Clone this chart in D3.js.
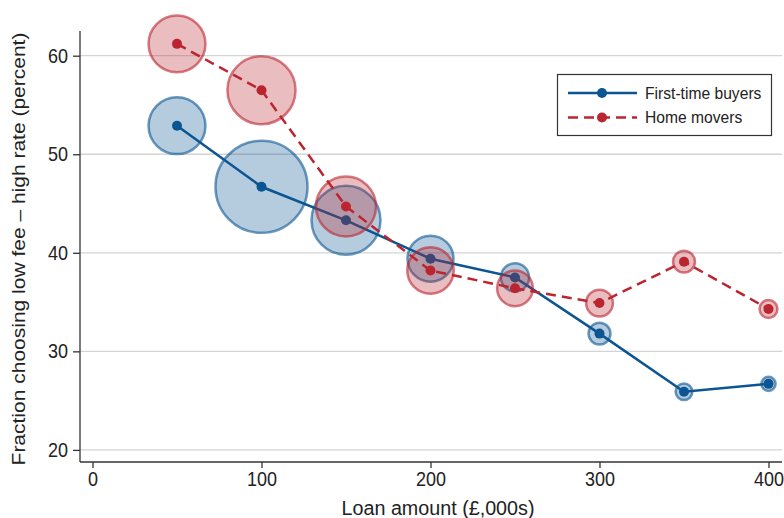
<!DOCTYPE html>
<html>
<head>
<meta charset="utf-8">
<script src="https://cdn.jsdelivr.net/npm/d3@7"></script>
<style>
  html, body { margin: 0; padding: 0; background: #fff; }
  svg { display: block; }
  text { font-family: "Liberation Sans", Arial, sans-serif; fill: #222; }
</style>
</head>
<body>
<svg id="chart" width="784" height="518"></svg>
<script>
// Loan amount buckets (£,000s)
const loanAmounts = [50, 100, 150, 200, 250, 300, 350, 400];
// Fraction choosing low fee – high rate (percent)
const firstTimeBuyers = [52.9, 46.7, 43.3, 39.4, 37.5, 31.8, 25.9, 26.7];
const homeMovers = [61.2, 56.5, 44.7, 38.2, 36.4, 34.9, 39.1, 34.3];
// Share of loans in each bucket (bubble area)
const firstTimeBuyersShare = [8.1, 21.2, 11.9, 5.3, 2.0, 1.2, 0.7, 0.5];
const homeMoversShare = [8.1, 11.6, 9.0, 5.4, 3.2, 1.8, 1.2, 0.8];
const xTicks = [0, 100, 200, 300, 400];
const yTicks = [20, 30, 40, 50, 60];
const seriesNames = ["First-time buyers", "Home movers"];

const svg = d3.select("#chart");
const plotLeft = 80, plotRight = 782, plotTop = 31, plotBottom = 462;
// Horizontal text squeeze for a narrower type look
const sq = 0.9;

const x = d3.scaleLinear().domain([0, 400]).range([92.5, 768.5]);
const y = d3.scaleLinear().domain([20, 60]).range([449.9, 55.7]);
const r = d3.scaleSqrt().domain([0, 21.2]).range([0, 46]);

// Gridlines
svg.append("g")
  .selectAll("line").data(yTicks).join("line")
  .attr("x1", plotLeft).attr("x2", plotRight)
  .attr("y1", d => y(d)).attr("y2", d => y(d))
  .attr("stroke", "#d4d4d4").attr("stroke-width", 1.3);

// Axes
const axisColor = "#333";
const xAxis = svg.append("g").attr("transform", `translate(0,${plotBottom})`)
  .call(d3.axisBottom(x).tickValues(xTicks).tickSize(6).tickPadding(4).tickSizeOuter(0));
xAxis.select(".domain").remove();
xAxis.append("line").attr("x1", plotLeft).attr("x2", plotRight).attr("stroke", axisColor).attr("stroke-width", 1.3);
xAxis.selectAll(".tick line").attr("stroke", axisColor).attr("stroke-width", 1.3);
xAxis.selectAll(".tick text").attr("font-size", 20).attr("fill", "#222")
  .attr("font-family", null).attr("transform", `scale(${sq},1)`);

const yAxis = svg.append("g").attr("transform", `translate(${plotLeft},0)`)
  .call(d3.axisLeft(y).tickValues(yTicks).tickSize(7).tickPadding(4).tickSizeOuter(0));
yAxis.select(".domain").remove();
yAxis.append("line").attr("y1", plotTop).attr("y2", plotBottom).attr("stroke", axisColor).attr("stroke-width", 1.3);
yAxis.selectAll(".tick line").attr("stroke", axisColor).attr("stroke-width", 1.3);
yAxis.selectAll(".tick text").attr("font-size", 20).attr("fill", "#222")
  .attr("font-family", null)
  .attr("x", -12 / sq).attr("transform", `scale(${sq},1)`);
svg.selectAll(".tick text").style("font-family", '"Liberation Sans", Arial, sans-serif');

// Axis titles
svg.append("text").attr("transform", `translate(438,515) scale(0.94,1)`).attr("text-anchor", "middle")
  .attr("font-size", 21).text("Loan amount (£,000s)");
svg.append("text").attr("transform", `translate(25,249) rotate(-90) scale(1,${sq})`).attr("text-anchor", "middle")
  .attr("font-size", 21).text("Fraction choosing low fee – high rate (percent)");

const series = [
  { name: seriesNames[0], values: firstTimeBuyers, share: firstTimeBuyersShare,
    color: "#0a5592", dash: null },
  { name: seriesNames[1], values: homeMovers, share: homeMoversShare,
    color: "#bb2530", dash: "10,6" }
];

const line = d3.line().x((d, i) => x(loanAmounts[i])).y(d => y(d));

series.forEach(s => {
  const g = svg.append("g");
  // Bubbles sized by share of loans
  g.append("g").selectAll("circle").data(s.values).join("circle")
    .attr("cx", (d, i) => x(loanAmounts[i])).attr("cy", d => y(d))
    .attr("r", (d, i) => r(s.share[i]))
    .attr("fill", s.color).attr("fill-opacity", 0.3)
    .attr("stroke", s.color).attr("stroke-opacity", 0.6).attr("stroke-width", 2.5);
  // Connected line and markers
  g.append("path").datum(s.values).attr("d", line)
    .attr("fill", "none").attr("stroke", s.color).attr("stroke-width", 2.5)
    .attr("stroke-dasharray", s.dash);
  g.append("g").selectAll("circle").data(s.values).join("circle")
    .attr("cx", (d, i) => x(loanAmounts[i])).attr("cy", d => y(d))
    .attr("r", 5).attr("fill", s.color);
});

// Legend
const lg = svg.append("g");
lg.append("rect").attr("x", 557.5).attr("y", 74.5).attr("width", 214).attr("height", 61)
  .attr("fill", "#fff").attr("stroke", "#333").attr("stroke-width", 1.2);
series.forEach((s, i) => {
  const cy = 93 + i * 24.5;
  lg.append("line").attr("x1", 568).attr("x2", 637).attr("y1", cy).attr("y2", cy)
    .attr("stroke", s.color).attr("stroke-width", 2.5).attr("stroke-dasharray", s.dash);
  lg.append("circle").attr("cx", 602).attr("cy", cy).attr("r", 5).attr("fill", s.color);
  lg.append("text").attr("transform", `translate(645,${cy}) scale(0.92,1)`).attr("dy", "0.35em")
    .attr("font-size", 17).text(s.name);
});
</script>
</body>
</html>
